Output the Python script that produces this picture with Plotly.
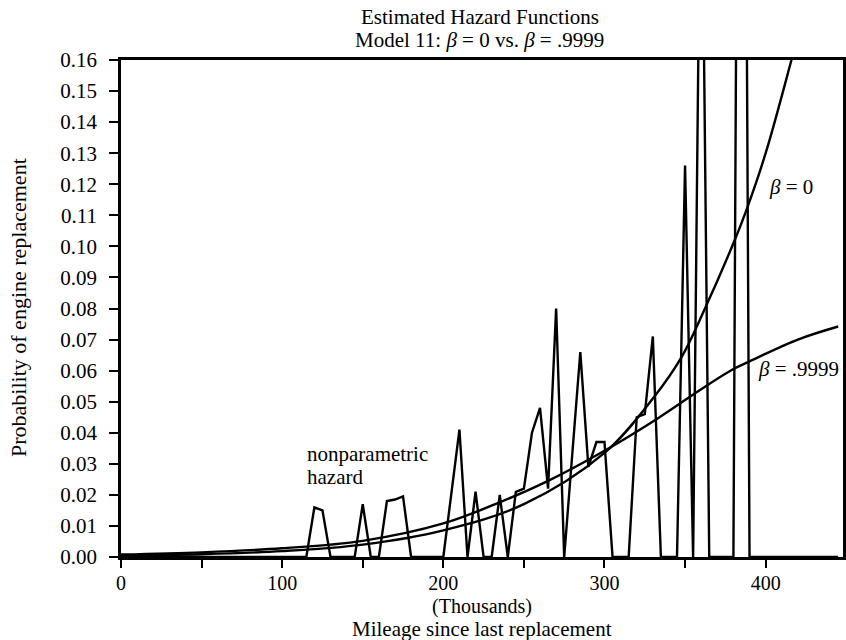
import plotly.graph_objects as go

# Nonparametric hazard (breakpoints)
np_mileage = [0, 115, 120, 125, 130, 145, 150, 155, 160, 165, 170, 175, 180,
              200, 210, 215, 220, 225, 230, 235, 240, 245, 250, 255, 260, 265,
              270, 275, 285, 290, 295, 300, 305, 315, 320, 325, 330, 335, 345,
              350, 355, 360, 365, 380, 385, 390, 445]
np_hazard = [0, 0, 0.016, 0.015, 0, 0, 0.017, 0, 0, 0.018, 0.0185, 0.0195, 0,
             0, 0.041, 0, 0.021, 0, 0, 0.020, 0, 0.021, 0.022, 0.040, 0.048, 0.022,
             0.080, 0, 0.066, 0.029, 0.037, 0.037, 0, 0, 0.045, 0.046, 0.071, 0, 0,
             0.126, 0, 0.25, 0, 0, 0.5, 0, 0]

# Parametric hazard, beta = 0
b0_mileage = [0, 50, 100, 150, 200, 250, 300, 330, 348, 362, 380, 388, 400, 416, 425]
b0_hazard = [0.0005, 0.0009, 0.0019, 0.004, 0.0086, 0.017, 0.0335, 0.051, 0.0645,
             0.0796, 0.101, 0.1116, 0.130, 0.160, 0.178]

# Parametric hazard, beta = .9999
b1_mileage = [0, 50, 100, 150, 200, 235, 265, 300, 333, 360, 380, 390, 420, 445]
b1_hazard = [0.0008, 0.0015, 0.0028, 0.0052, 0.0108, 0.0176, 0.0245, 0.0342,
             0.0446, 0.054, 0.0605, 0.063, 0.0700, 0.0742]

x_tickvals = [0, 50, 100, 150, 200, 250, 300, 350, 400]
x_ticktext = ["0", "", "100", "", "200", "", "300", "", "400"]

FONT = "Liberation Serif, Times New Roman, serif"
LW = 2.4

fig = go.Figure()
fig.add_trace(go.Scatter(x=np_mileage, y=np_hazard, mode="lines",
                         line=dict(color="black", width=LW), showlegend=False))
fig.add_trace(go.Scatter(x=b0_mileage, y=b0_hazard, mode="lines",
                         line=dict(color="black", width=LW, shape="spline", smoothing=1.0),
                         showlegend=False))
fig.add_trace(go.Scatter(x=b1_mileage, y=b1_hazard, mode="lines",
                         line=dict(color="black", width=LW, shape="spline", smoothing=1.0),
                         showlegend=False))


def note(text, x, y, size=21, xref="paper", yref="paper", xanchor="center", **kw):
    return dict(text=text, xref=xref, yref=yref, x=x, y=y, xanchor=xanchor,
                yanchor="middle", showarrow=False,
                font=dict(family=FONT, size=size, color="black"), **kw)


fig.update_layout(
    width=846, height=640,
    margin=dict(l=121, r=3, t=60, b=83, autoexpand=False),
    paper_bgcolor="white", plot_bgcolor="white",
    font=dict(family=FONT, size=20, color="black"),
    xaxis=dict(range=[0, 448], tickvals=x_tickvals, ticktext=x_ticktext,
               ticks="outside", ticklen=8, tickwidth=2, tickcolor="black",
               showline=True, linewidth=2.5, linecolor="black", mirror=True,
               showgrid=False, zeroline=False, ticklabelstandoff=-2, automargin=False,
               tickfont=dict(family=FONT, size=20)),
    yaxis=dict(range=[0, 0.16], dtick=0.01, tick0=0, tickformat=".2f",
               ticks="outside", ticklen=9, tickwidth=2, tickcolor="black",
               showline=True, linewidth=2.5, linecolor="black", mirror=True,
               showgrid=False, zeroline=False, ticklabelstandoff=8, automargin=False,
               tickfont=dict(family=FONT, size=21)),
    annotations=[
        note("Estimated Hazard Functions", 0.497, 1.0865),
        note("Model 11: <i>β</i> = 0 vs. <i>β</i> = .9999", 0.497, 1.0402),
        note("(Thousands)", 0.5, -0.1006, size=20),
        note("Mileage since last replacement", 0.5, -0.1449, size=21),
        note("Probability of engine replacement", -0.1427, 0.503, size=22, textangle=-90),
        note("nonparametric", 114, 0.0332, xref="x", yref="y", xanchor="left"),
        note("hazard", 114, 0.0256, xref="x", yref="y", xanchor="left"),
        note("<i>β</i> = 0", 401, 0.119, xref="x", yref="y", xanchor="left"),
        note("<i>β</i> = .9999", 394, 0.0605, xref="x", yref="y", xanchor="left"),
    ],
)

fig.write_html("out.html", config={"displayModeBar": False},
               post_script="document.body.style.margin='0px';document.body.style.overflow='hidden';")
